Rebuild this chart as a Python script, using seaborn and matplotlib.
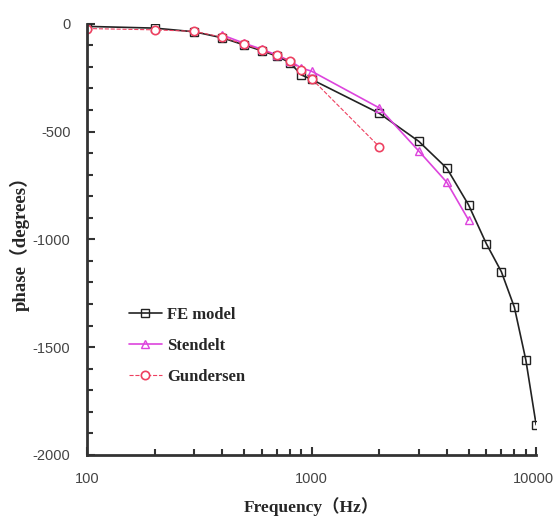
import numpy as np
import pandas as pd
import matplotlib
matplotlib.use('Agg')
import matplotlib.pyplot as plt
import matplotlib.transforms as mtrans
from matplotlib.ticker import MultipleLocator, LogLocator, NullFormatter, FixedLocator
import seaborn as sns

fe_freq = [100, 200, 300, 400, 500, 600, 700, 800, 900, 1000,
           2000, 3000, 4000, 5000, 6000, 7000, 8000, 9000, 10000]
fe_phase = [-12, -20, -37, -65, -98, -125, -150, -180, -237, -258,
            -415, -545, -670, -840, -1020, -1150, -1315, -1560, -1860]

st_freq = [400, 500, 600, 700, 800, 900, 1000, 2000, 3000, 4000, 5000]
st_phase = [-52, -90, -118, -145, -172, -205, -220, -390, -590, -735, -910]

gu_freq = [100, 200, 300, 400, 500, 600, 700, 800, 900, 1000, 2000]
gu_phase = [-22, -28, -35, -62, -95, -122, -147, -172, -215, -255, -570]

sns.set_style('ticks')
plt.rcParams['axes.unicode_minus'] = False
serif = ['Liberation Serif', 'Noto Sans CJK SC']

fig = plt.figure(figsize=(5.55, 5.29), dpi=100)
ax = fig.add_axes([0.157, 0.140, 0.809, 0.815])

sns.lineplot(x=fe_freq, y=fe_phase, ax=ax, color='#222222', lw=1.2,
             marker='s', markersize=6, markerfacecolor='none',
             markeredgecolor='#222222', markeredgewidth=1.0, label='FE model')
sns.lineplot(x=st_freq, y=st_phase, ax=ax, color='#dd44dd', lw=1.2,
             marker='^', markersize=6, markerfacecolor='none',
             markeredgecolor='#dd44dd', markeredgewidth=1.0, label='Stendelt')
sns.lineplot(x=gu_freq, y=gu_phase, ax=ax, color='#ee4060', lw=0.8,
             linestyle='--', marker='o', markersize=6, markerfacecolor='white',
             markeredgecolor='#ee4060', markeredgewidth=1.2, label='Gundersen')

ax.set_xscale('log')
ax.set_xlim(100, 10000)
ax.set_ylim(-2000, 0)
ax.xaxis.set_major_locator(FixedLocator([100, 1000, 10000]))
ax.xaxis.set_major_formatter(matplotlib.ticker.FuncFormatter(lambda v, p: f'{int(v)}'))
ax.xaxis.set_minor_locator(LogLocator(base=10, subs=np.arange(2, 10)))
ax.xaxis.set_minor_formatter(NullFormatter())
ax.yaxis.set_major_locator(MultipleLocator(500))
ax.yaxis.set_minor_locator(MultipleLocator(100))

ax.tick_params(which='major', direction='in', length=6, width=1.5, color='#333333',
               labelsize=10.5, labelcolor='#444444', pad=12)
ax.tick_params(which='minor', direction='in', length=4, width=1.5, color='#333333')
for lab in ax.get_xticklabels() + ax.get_yticklabels():
    lab.set_family('Liberation Sans')
# keep the last x label inside the canvas
last = ax.get_xticklabels()[-1]
last.set_transform(last.get_transform() + mtrans.ScaledTranslation(-3 / 100, 0, fig.dpi_scale_trans))

for s in ['top', 'right']:
    ax.spines[s].set_visible(False)
for s in ['left', 'bottom']:
    ax.spines[s].set_linewidth(2)
    ax.spines[s].set_color('#333333')

ax.set_xlabel('Frequency（Hz）', family=serif, fontweight='bold', fontsize=12.5, labelpad=8)
ax.set_ylabel('phase（degrees）', family=serif, fontweight='bold', fontsize=13.5, labelpad=2)

ax.legend(loc='upper left', bbox_to_anchor=(0.059, 0.379), frameon=False,
          prop={'family': 'Liberation Serif', 'weight': 'bold', 'size': 12},
          handlelength=2.0, handletextpad=0.3, labelspacing=0.9)

fig.savefig('out.png', dpi=100)
